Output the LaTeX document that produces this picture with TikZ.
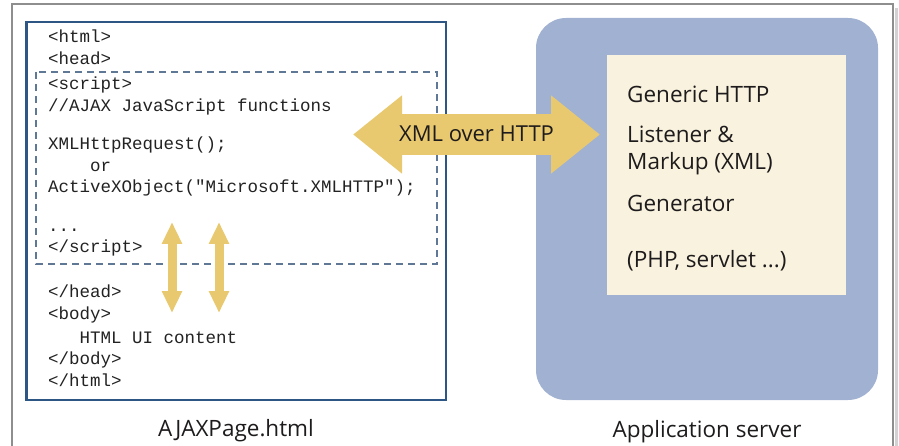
\documentclass[tikz,border=0pt]{standalone}
\usepackage{fontspec}
\setmainfont{Open Sans}
\newfontfamily\codefont{Liberation Mono}
\usetikzlibrary{arrows.meta}

\definecolor{framegray}{HTML}{8E8E8E}
\definecolor{pageblue}{HTML}{2E5685}
\definecolor{dashblue}{HTML}{5F7896}
\definecolor{serverblue}{HTML}{A1B1D2}
\definecolor{cream}{HTML}{F9F2DE}
\definecolor{gold}{HTML}{E8C96F}
\definecolor{inkdark}{HTML}{1E1B1C}
\definecolor{codeink}{HTML}{222222}

\tikzset{
  codeline/.style={anchor=base west, inner sep=0pt, text=codeink,
    font=\codefont\fontsize{17.5}{20}\selectfont},
  label/.style={anchor=base, inner sep=0pt, text=inkdark,
    font=\fontsize{22.5}{26}\selectfont},
  srvline/.style={anchor=base west, inner sep=0pt, text=inkdark,
    font=\fontsize{22.5}{26}\selectfont},
  bigarrow/.style={draw=gold, line width=41pt,
    {Triangle[width=75pt,length=49pt]}-{Triangle[width=75pt,length=49pt]}},
  smallarrow/.style={draw=gold, line width=9pt,
    {Triangle[width=19pt,length=22pt]}-{Triangle[width=19pt,length=22pt]}},
}

\begin{document}
\begin{tikzpicture}[x=1pt,y=-1pt]
  \useasboundingbox (0,0) rectangle (899,446);

  % surrounding frame (open at the bottom)
  \draw[gray!35, line width=3pt] (896,8) -- (896,446);
  \draw[framegray, line width=1.5pt] (12,446) -- (12,4) -- (893,4) -- (893,446);

  % the HTML page
  \draw[pageblue, line width=2.2pt] (26.5,22) rectangle (446,400);
  \draw[dashblue, line width=1.2pt, dash pattern=on 7pt off 5pt] (36,72) rectangle (437,264);

  \node[codeline] (l1)  at (48,43)  {<html>};
  \node[codeline] (l2)  at (48,65)  {<head>};
  \node[codeline] (l3)  at (48,90)  {<script>};
  \node[codeline] (l4)  at (48,112) {//AJAX JavaScript functions};
  \node[codeline] (l5)  at (48,150) {XMLHttpRequest();};
  \node[codeline] (l6)  at (90,172) {or};
  \node[codeline] (l7)  at (48,193) {ActiveXObject("Microsoft.XMLHTTP");};
  \node[codeline] (l8)  at (48,232) {...};
  \node[codeline] (l9)  at (48,253) {</script>};
  \node[codeline] (l10) at (48,297) {</head>};
  \node[codeline] (l11) at (48,319) {<body>};
  \node[codeline] (l12) at (79.5,343) {HTML UI content};
  \node[codeline] (l13) at (48,364) {</body>};
  \node[codeline] (l14) at (48,386) {</html>};

  \node[label] (pagename) at (236,436) {AJAXPage.html};

  % the application server
  \fill[serverblue, rounded corners=30pt] (536,18) rectangle (878,400);
  \fill[cream] (607,55) rectangle (846,295);

  \node[srvline] (s1) at (627,103) {Generic HTTP};
  \node[srvline] (s2) at (627,143) {Listener \&};
  \node[srvline] (s3) at (627,170) {Markup (XML)};
  \node[srvline] (s4) at (627,212) {Generator};
  \node[srvline] (s5) at (627,268) {(PHP, servlet ...)};

  \node[label] (srvname) at (707,437) {Application server};

  % XML over HTTP exchange
  \coordinate (xl) at (353,134.5);
  \coordinate (xr) at (600,134.5);
  \draw[bigarrow] (xl) -- (xr);
  \node[label, font=\fontsize{22}{24}\selectfont] (xmltxt) at (476.5,142) {XML over HTTP};

  % calls between the script and the page body
  \coordinate (a1t) at (172,222);
  \coordinate (a1b) at (172,313);
  \coordinate (a2t) at (219,222);
  \coordinate (a2b) at (219,313);
  \draw[smallarrow] (a1t) -- (a1b);
  \draw[smallarrow] (a2t) -- (a2b);
\end{tikzpicture}
\end{document}
